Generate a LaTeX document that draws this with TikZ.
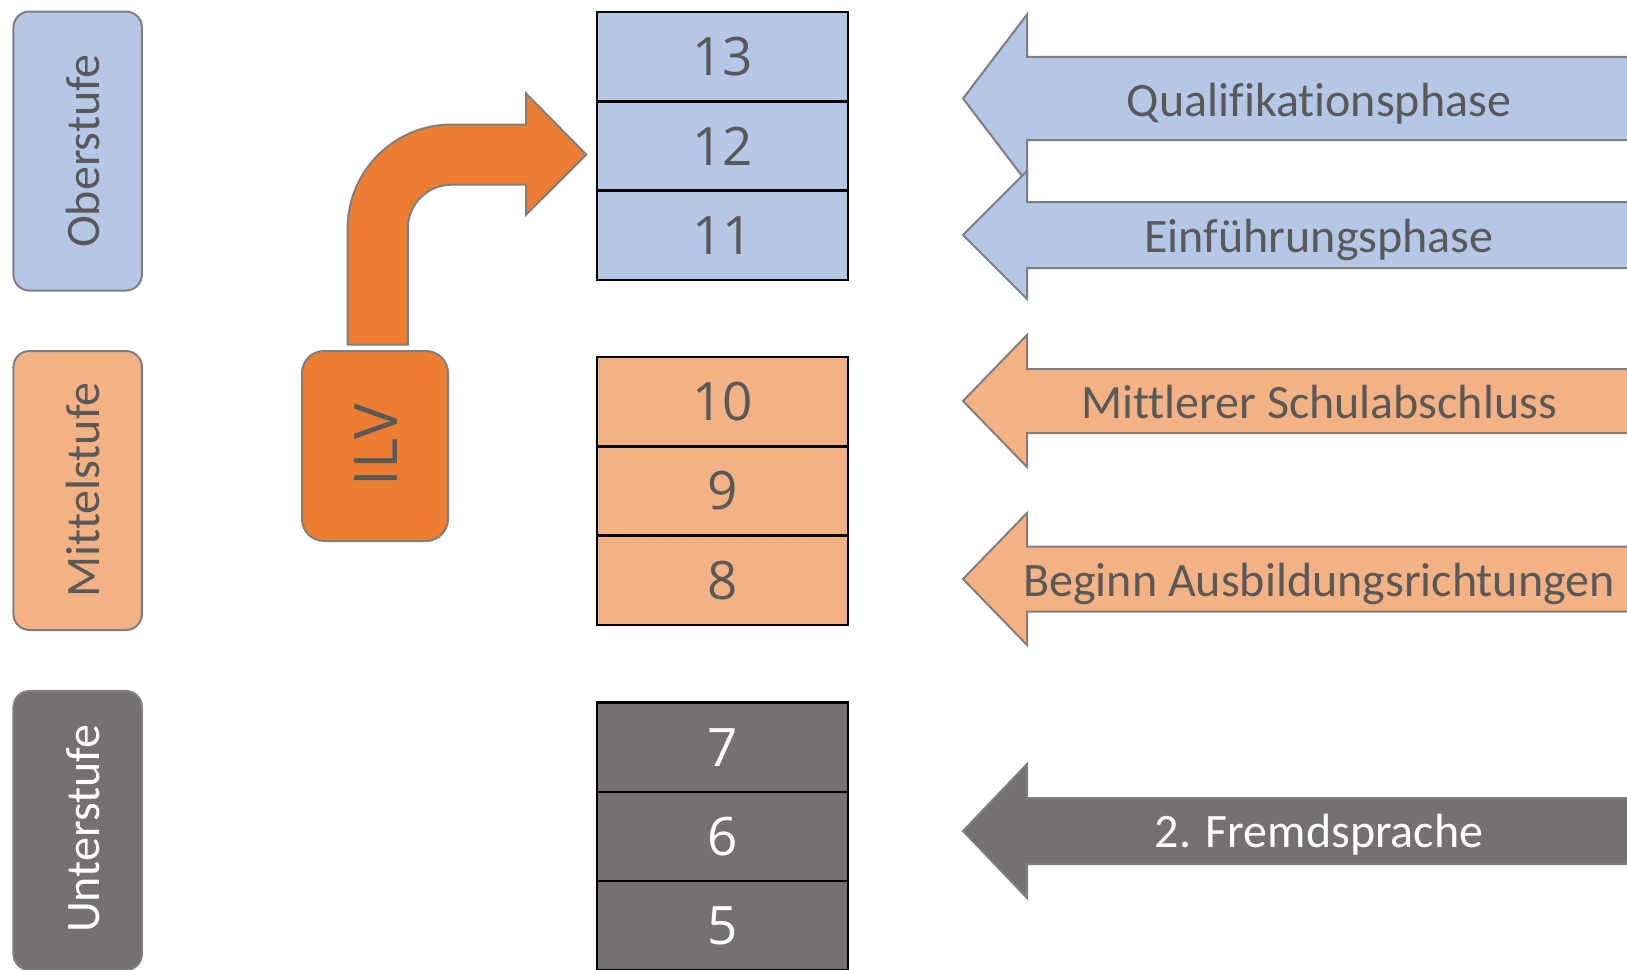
\documentclass[tikz,border=0pt]{standalone}
\usepackage{fontspec}
\setmainfont{Carlito}[Ligatures=NoCommon]
\newfontfamily\osfont{Open Sans}
\definecolor{blueA}{HTML}{B4C7E7}
\definecolor{orangeA}{HTML}{F4B183}
\definecolor{orangeB}{HTML}{ED7D31}
\definecolor{grayA}{HTML}{767171}
\definecolor{txtg}{HTML}{595959}
\definecolor{lineg}{HTML}{7F7F7F}
\newcommand\blockarrow[4]{%
  \draw[#4] (1027,{#1-#2}) -- (1027,{#1-#3}) -- (963,#1) -- (1027,{#1+#3})
    -- (1027,{#1+#2}) -- (1680,{#1+#2}) -- (1680,{#1-#2}) -- cycle;}
\begin{document}
\begin{tikzpicture}[x=0.5pt,y=-0.5pt,
  stagebox/.style={draw=lineg, line width=1pt, rounded corners=8pt,
    minimum width=64.25pt, minimum height=139.5pt, inner sep=0pt},
  stagetext/.style={anchor=base, rotate=90, font=\fontsize{24}{24}\selectfont, text=txtg},
  cell/.style={draw=black, line width=1.2pt, minimum width=125.5pt,
    minimum height=44.65pt, inner sep=0pt, font=\osfont\fontsize{26.5}{26.5}\selectfont, text=txtg},
  arrowtext/.style={anchor=base, font=\fontsize{24}{24}\selectfont, text=txtg},
  arrowshape/.style={draw=lineg, line width=1pt, line join=miter}
]
\clip (0,0) rectangle (1627,969);
\useasboundingbox (0,0) rectangle (1627,969);

% stage boxes
\node[stagebox, fill=blueA] (ober) at (77.7,151) {};
\node[stagetext] (oberT) at (99,151) {Oberstufe};
\node[stagebox, fill=orangeA] (mittel) at (77.7,490.5) {};
\node[stagetext] (mittelT) at (99,490) {Mittelstufe};
\node[stagebox, fill=grayA] (unter) at (77.7,830.5) {};
\node[stagetext, text=white] (unterT) at (99,829) {Unterstufe};

% ILV box
\node[draw=lineg, line width=1pt, rounded corners=11pt, fill=orangeB,
  minimum width=73pt, minimum height=95pt, inner sep=0pt] (ilv) at (375,446) {};
\node[rotate=90, font=\osfont\fontsize{30}{30}\selectfont, text=txtg, inner sep=0pt] (ilvT) at (376,445) {ILV};

% bent arrow
\draw[arrowshape, fill=orangeB]
  (347.6,344.5) -- (347.6,228.5)
  .. controls (347.6,171.1) and (394.2,124.5) .. (451.6,124.5)
  -- (526,124.5) -- (526,93.4) -- (586.3,154.6) -- (526,214.8) -- (526,184.7)
  -- (451.6,184.7)
  .. controls (427.4,184.7) and (407.8,204.3) .. (407.8,228.5)
  -- (407.8,344.5) -- cycle;

% grade cells
\node[cell, fill=blueA] (g13) at (722.5,56.7) {13};
\node[cell, fill=blueA] (g12) at (722.5,146.0) {12};
\node[cell, fill=blueA] (g11) at (722.5,235.3) {11};
\node[cell, fill=orangeA] (g10) at (722.5,401.7) {10};
\node[cell, fill=orangeA] (g9) at (722.5,491.0) {9};
\node[cell, fill=orangeA] (g8) at (722.5,580.3) {8};
\node[cell, fill=grayA, text=white] (g7) at (722.5,747.2) {7};
\node[cell, fill=grayA, text=white] (g6) at (722.5,836.5) {6};
\node[cell, fill=grayA, text=white] (g5) at (722.5,925.8) {5};

% block arrows
\blockarrow{98.5}{41.7}{84}{arrowshape, fill=blueA}
\blockarrow{235}{33}{64}{arrowshape, fill=blueA}
\blockarrow{401}{32}{66}{arrowshape, fill=orangeA}
\blockarrow{579}{32.5}{66}{arrowshape, fill=orangeA}
\blockarrow{831}{33}{67}{arrowshape, fill=grayA}

\node[arrowtext] (qual) at (1319,116) {Qualifikationsphase};
\node[arrowtext] (einf) at (1319,252) {Einführungsphase};
\node[arrowtext] (msa) at (1319,418) {Mittlerer Schulabschluss};
\node[arrowtext] (beginn) at (1319,596) {Beginn Ausbildungsrichtungen};
\node[arrowtext, text=white] (fremd) at (1319,847.5) {2. Fremdsprache};
\end{tikzpicture}
\end{document}
